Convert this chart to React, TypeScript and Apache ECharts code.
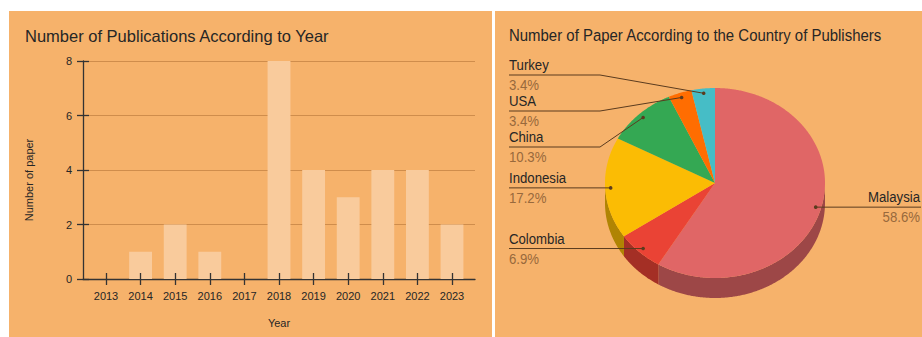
import React, { useEffect, useRef } from "react";
import * as echarts from "echarts";

// ---------- data ----------
const YEARS = ["2013", "2014", "2015", "2016", "2017", "2018", "2019", "2020", "2021", "2022", "2023"];
const PAPERS_PER_YEAR = [0, 1, 2, 1, 0, 8, 4, 3, 4, 4, 2];
const Y_MAX = 8;
const Y_STEP = 2;

const COUNTRIES = ["Malaysia", "Colombia", "Indonesia", "China", "USA", "Turkey"];
const PAPERS_PER_COUNTRY = [17, 2, 5, 3, 1, 1];
const COUNTRY_COLORS = ["#E06666", "#EA4335", "#FBBC04", "#34A853", "#FF6D01", "#46BDC6"];

// ---------- layout / style ----------
const W = 922;
const H = 337;
const BG = "#F6B26B";
const BAR = "#F9CB9C";
const GRID_LINE = "#CF8D4C";
const AXIS = "#333333";
const TEXT = "#262626";
const FONT = '"Liberation Sans", Arial, sans-serif';

const PIE = { cx: 715, cy: 183, rx: 110, ry: 95, depth: 20 };
const ANCHOR_R = 0.95;
const LABEL_LEFT_X = 509;
const LABEL_RIGHT_X = 921;
const LABEL_TOP = 75;
const LABEL_GAP = 36;
const ELBOW_PAD = 5;
const R_SCALE = 0.88;

function darken(hex: string, f: number) {
  const n = parseInt(hex.slice(1), 16);
  const r = Math.round(((n >> 16) & 255) * f);
  const g = Math.round(((n >> 8) & 255) * f);
  const b = Math.round((n & 255) * f);
  return `rgb(${r},${g},${b})`;
}

const TOTAL = PAPERS_PER_COUNTRY.reduce((a, b) => a + b, 0);
const SLICES = (() => {
  let acc = 0;
  return PAPERS_PER_COUNTRY.map((v) => {
    const a0 = (acc / TOTAL) * Math.PI * 2;
    acc += v;
    const a1 = (acc / TOTAL) * Math.PI * 2;
    return { a0, a1, mid: (a0 + a1) / 2, pct: ((v / TOTAL) * 100).toFixed(1) + "%" };
  });
})();

function pt(t: number, dy = 0, f = 1): number[] {
  return [PIE.cx + PIE.rx * f * Math.sin(t), PIE.cy - PIE.ry * f * Math.cos(t) + dy];
}
function arc(a0: number, a1: number, dy = 0): number[][] {
  const n = Math.max(2, Math.ceil((a1 - a0) / (Math.PI / 360)));
  const out: number[][] = [];
  for (let i = 0; i <= n; i++) out.push(pt(a0 + ((a1 - a0) * i) / n, dy));
  return out;
}

// label layout: clusters of overlapping labels are centred on their mean, then kept below LABEL_TOP
function layoutLabels() {
  const items = SLICES.map((s, i) => {
    const a = pt(s.mid, 0, ANCHOR_R);
    return { i, ax: a[0], ay: a[1], side: Math.sin(s.mid) < 0 ? "left" : "right", y: a[1] };
  });
  for (const side of ["left", "right"]) {
    const list = items.filter((d) => d.side === side).sort((p, q) => p.ay - q.ay);
    type C = { members: typeof list; top: number };
    const clusters: C[] = [];
    const place = (c: C) => c.members.forEach((m, k) => (m.y = c.top + k * LABEL_GAP));
    const mean = (c: C) => c.members.reduce((s, m) => s + m.ay, 0) / c.members.length;
    for (const d of list) {
      clusters.push({ members: [d], top: d.ay });
      while (clusters.length > 1) {
        const b = clusters[clusters.length - 1];
        const a = clusters[clusters.length - 2];
        if (a.top + (a.members.length - 1) * LABEL_GAP + LABEL_GAP > b.top) {
          const m: C = { members: a.members.concat(b.members), top: 0 };
          m.top = mean(m) - ((m.members.length - 1) * LABEL_GAP) / 2;
          clusters.splice(clusters.length - 2, 2, m);
        } else break;
      }
    }
    let minTop = LABEL_TOP;
    for (const c of clusters) {
      if (c.top < minTop) c.top = minTop;
      place(c);
      minTop = c.top + c.members.length * LABEL_GAP;
    }
  }
  return items.sort((p, q) => p.i - q.i);
}
const LABELS = layoutLabels();

export default function App() {
  const ref = useRef<HTMLDivElement>(null);
  useEffect(() => {
    document.body.style.margin = "0";
    const chart = echarts.init(ref.current!, null, { renderer: "svg" });
    const pieData = PAPERS_PER_COUNTRY.map((v, i) => [i, v]);
    chart.setOption({
      animation: false,
      backgroundColor: "#ffffff",
      textStyle: { fontFamily: FONT },
      graphic: [
        { type: "rect", z: -10, shape: { x: 9, y: 11, width: 483, height: 326 }, style: { fill: BG } },
        { type: "rect", z: -10, shape: { x: 495, y: 11, width: 427, height: 326 }, style: { fill: BG } },
        {
          type: "text", x: 25, y: 35.5, z: 5,
          style: { text: "Number of Publications According to Year", fill: TEXT, fontSize: 16.5, fontFamily: FONT, verticalAlign: "middle", textVerticalAlign: "middle" },
        },
        {
          type: "text", x: 509, y: 35.5, z: 5, scaleX: R_SCALE,
          style: { text: "Number of Paper According to the Country of Publishers", fill: TEXT, fontSize: 17, fontFamily: FONT, verticalAlign: "middle", textVerticalAlign: "middle" },
        },
      ],
      grid: [
        { left: 83, top: 61, width: 392, height: 218 },
        { left: 88.7, top: 61, width: 380.6, height: 218 },
      ],
      xAxis: [
        {
          gridIndex: 0, type: "value", min: 0, max: 1,
          axisLine: { show: true, lineStyle: { color: AXIS, width: 1.3 } },
          axisTick: { show: false }, axisLabel: { show: false }, splitLine: { show: false },
        },
        {
          gridIndex: 1, type: "category", data: YEARS, offset: -6, z: 5,
          axisLine: { show: false },
          axisTick: { show: true, alignWithLabel: true, length: 12, lineStyle: { color: AXIS, width: 1.3 } },
          axisLabel: { color: TEXT, fontSize: 11, margin: 17, fontFamily: FONT },
          name: "Year", nameLocation: "middle", nameGap: 44,
          nameTextStyle: { color: TEXT, fontSize: 11, fontFamily: FONT },
        },
      ],
      yAxis: [
        {
          gridIndex: 0, type: "value", min: 0, max: Y_MAX, interval: Y_STEP,
          axisLine: { show: true, lineStyle: { color: AXIS, width: 1.3 } },
          axisTick: { show: true, length: 6, lineStyle: { color: AXIS, width: 1.3 } },
          axisLabel: { color: TEXT, fontSize: 11, margin: 11, fontFamily: FONT },
          splitLine: { show: true, lineStyle: { color: GRID_LINE, width: 1 } },
          name: "Number of paper", nameLocation: "middle", nameGap: 49, nameRotate: 90,
          nameTextStyle: { color: TEXT, fontSize: 11, fontFamily: FONT, padding: [0, 20, 0, 0] },
        },
        {
          gridIndex: 0, type: "value", min: 0, max: Y_MAX, interval: Y_STEP, position: "left", z: 5,
          axisLine: { show: false },
          axisTick: { show: true, inside: true, length: 6, lineStyle: { color: AXIS, width: 1.3 } },
          axisLabel: { show: false }, splitLine: { show: false },
        },
        { gridIndex: 1, type: "value", min: 0, max: Y_MAX, show: false },
      ],
      series: [
        {
          type: "bar", xAxisIndex: 1, yAxisIndex: 2, data: PAPERS_PER_YEAR, barWidth: "66%",
          itemStyle: { color: BAR }, silent: true,
        },
        {
          type: "custom", coordinateSystem: "none", data: pieData, z: 1, silent: true,
          renderItem: (params: any) => {
            const s = SLICES[params.dataIndex];
            const lo = Math.max(s.a0, Math.PI / 2);
            const hi = Math.min(s.a1, Math.PI * 1.5);
            if (hi <= lo) return { type: "group", children: [] };
            const top = arc(lo, hi, 0);
            const bottom = arc(lo, hi, PIE.depth).reverse();
            return {
              type: "polygon",
              shape: { points: top.concat(bottom) },
              style: { fill: darken(COUNTRY_COLORS[params.dataIndex], 0.7) },
            };
          },
        },
        {
          type: "custom", coordinateSystem: "none", data: pieData, z: 2, silent: true,
          renderItem: (params: any) => {
            const s = SLICES[params.dataIndex];
            return {
              type: "polygon",
              shape: { points: [[PIE.cx, PIE.cy]].concat(arc(s.a0, s.a1, 0)) },
              style: { fill: COUNTRY_COLORS[params.dataIndex] },
            };
          },
        },
        {
          type: "custom", coordinateSystem: "none", data: pieData, z: 3, silent: true,
          renderItem: (params: any) => {
            const i = params.dataIndex;
            const L = LABELS[i];
            const left = L.side === "left";
            const tx = left ? LABEL_LEFT_X : LABEL_RIGHT_X - 1;
            const edge = left ? LABEL_LEFT_X : LABEL_RIGHT_X;
            const elbow = left ? Math.min(PIE.cx - PIE.rx - ELBOW_PAD, L.ax) : Math.max(PIE.cx + PIE.rx + ELBOW_PAD, L.ax);
            const align = left ? "left" : "right";
            return {
              type: "group",
              children: [
                {
                  type: "polyline",
                  shape: { points: [[edge, L.y], [elbow, L.y], [L.ax, L.ay]] },
                  style: { stroke: "#5B3B1E", lineWidth: 1, fill: null },
                },
                { type: "circle", shape: { cx: L.ax, cy: L.ay, r: 1.8 }, style: { fill: "#5B3B1E" } },
                {
                  type: "text", x: tx, y: L.y - 10, scaleX: R_SCALE,
                  style: { text: COUNTRIES[i], fill: TEXT, fontSize: 15, fontFamily: FONT, align, textAlign: align, verticalAlign: "middle", textVerticalAlign: "middle" },
                },
                {
                  type: "text", x: tx, y: L.y + 10, scaleX: R_SCALE,
                  style: { text: SLICES[i].pct, fill: "#98693C", fontSize: 15, fontFamily: FONT, align, textAlign: align, verticalAlign: "middle", textVerticalAlign: "middle" },
                },
              ],
            };
          },
        },
      ],
    });
    return () => chart.dispose();
  }, []);
  return <div ref={ref} style={{ width: W, height: H }} />;
}
